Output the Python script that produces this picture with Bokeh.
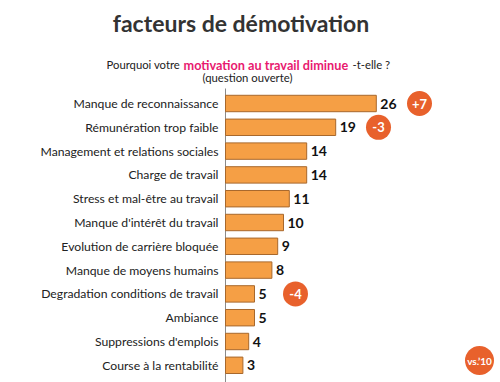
from bokeh.plotting import figure
from bokeh.models import Range1d, Label, ColumnDataSource
from bokeh.core.properties import value
from bokeh.embed import file_html
from bokeh.resources import INLINE

# ---------------- data ----------------
categories = [
    "Manque de reconnaissance",
    "Rémunération trop faible",
    "Management et relations sociales",
    "Charge de travail",
    "Stress et mal-être au travail",
    "Manque d'intérêt du travail",
    "Evolution de carrière bloquée",
    "Manque de moyens humains",
    "Degradation conditions de travail",
    "Ambiance",
    "Suppressions d'emplois",
    "Course à la rentabilité",
]
values = [26, 19, 14, 14, 11, 10, 9, 8, 5, 5, 4, 3]
badge_texts = ["+7", "-3", "-4"]
badge_categories = ["Manque de reconnaissance", "Rémunération trop faible",
                    "Degradation conditions de travail"]
title_text = "facteurs de démotivation"
sub_a, sub_b, sub_c = "Pourquoi votre", "motivation au travail diminue", "-t-elle ?"
sub_2 = "(question ouverte)"
vs_text = "vs.\u201910"

# ---------------- layout ----------------
W, H = 500, 382
AXIS_X = 225       # px of the value axis
PXU = 5.8          # pixels per unit
ROW = 23.8         # pixels per row
FIRST = 103        # first row centre, px from top
FONT = "Lato"

x_start = -AXIS_X / PXU
x_end = (W - AXIS_X) / PXU
y_top = -FIRST / ROW
y_bottom = y_top + H / ROW


def dx(px):  # image px -> data x
    return (px - AXIS_X) / PXU


def dy(py):  # image px -> data y (row units)
    return y_top + py / ROW


rows = list(range(len(categories)))
src = ColumnDataSource(dict(y=rows, v=values, t=[str(v) for v in values],
                            c=categories, z=[0] * len(values)))

p = figure(width=W, height=H, output_backend="svg", toolbar_location=None,
           x_range=Range1d(x_start, x_end), y_range=Range1d(y_bottom, y_top),
           min_border=0, x_axis_location=None, y_axis_location=None)
p.outline_line_color = None
p.grid.visible = False
p.background_fill_color = "white"
p.border_fill_color = "white"

# value axis line
p.segment(x0=[0], y0=[dy(88)], x1=[0], y1=[y_bottom], line_color="#8a8a8a", line_width=1)

# category labels
p.text(x="z", y="y", text="c", source=src, x_offset=-7,
       text_baseline="middle", text_align="right",
       text_font=value(FONT), text_font_size="12.2px", text_color="#222222")

p.hbar(y="y", left=0, right="v", height=0.69, source=src,
       fill_color="#f59f45", line_color="#a8682c", line_width=1)
p.text(x="v", y="y", text="t", source=src, x_offset=4,
       text_baseline="middle", text_align="left",
       text_font=value(FONT), text_font_style="bold",
       text_font_size="14px", text_color="#111111")

# change badges
badge_x = [dx(419), dx(378), dx(295)]
badge_y = [categories.index(c) for c in badge_categories]
bsrc = ColumnDataSource(dict(x=badge_x, y=badge_y, t=badge_texts))
p.scatter(x="x", y="y", source=bsrc, size=25, fill_color="#e8612c", line_color=None)
p.text(x="x", y="y", text="t", source=bsrc, text_align="center",
       text_baseline="middle", text_font=value(FONT), text_font_style="bold",
       text_font_size="13px", text_color="white")

vsrc = ColumnDataSource(dict(x=[dx(479)], y=[dy(360)], t=[vs_text]))
p.scatter(x="x", y="y", source=vsrc, size=29, fill_color="#e8612c", line_color=None)
p.text(x="x", y="y", text="t", source=vsrc, text_align="center",
       text_baseline="middle", text_font=value(FONT), text_font_style="bold",
       text_font_size="10px", text_color="white")

# titles
p.add_layout(Label(x=dx(240.5), y=dy(22.7), text=title_text, text_align="center",
                   text_baseline="alphabetic", text_font=FONT, text_font_style="bold",
                   text_font_size="23px", text_color="#333333"))
p.add_layout(Label(x=dx(106), y=dy(64), text=sub_a, text_align="left",
                   text_baseline="alphabetic", text_font=FONT,
                   text_font_size="11.3px", text_color="#222222"))
p.add_layout(Label(x=dx(183), y=dy(64), text=sub_b, text_align="left",
                   text_baseline="alphabetic", text_font=FONT, text_font_style="bold",
                   text_font_size="12.7px", text_color="#e8196f"))
p.add_layout(Label(x=dx(352), y=dy(64), text=sub_c, text_align="left",
                   text_baseline="alphabetic", text_font=FONT,
                   text_font_size="11.3px", text_color="#222222"))
p.add_layout(Label(x=dx(247), y=dy(77), text=sub_2, text_align="center",
                   text_baseline="alphabetic", text_font=FONT,
                   text_font_size="11.3px", text_color="#222222"))

open("out.html", "w").write(file_html(p, INLINE))
